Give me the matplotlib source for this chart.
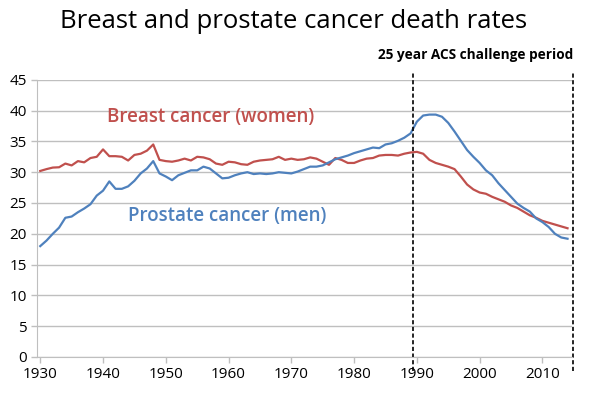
import matplotlib
matplotlib.use("Agg")
import matplotlib.pyplot as plt

RED = "#C0504D"
BLUE = "#4F81BD"
GRID = "#BFBFBF"

START_YEAR = 1930

# age-adjusted death rates per 100,000
breast = [30.2, 30.5, 30.75, 30.8, 31.4, 31.1, 31.8, 31.6, 32.3, 32.5,
          33.7, 32.6, 32.6, 32.5, 31.9, 32.8, 33.0, 33.5, 34.5, 32.0,
          31.8, 31.7, 31.9, 32.2, 31.9, 32.5, 32.4, 32.1, 31.4, 31.2,
          31.7, 31.6, 31.3, 31.2, 31.7, 31.9, 32.0, 32.1, 32.5, 32.0,
          32.2, 32.0, 32.1, 32.4, 32.2, 31.7, 31.2, 32.3, 32.0, 31.5,
          31.5, 31.9, 32.2, 32.3, 32.7, 32.8, 32.8, 32.7, 33.0, 33.2,
          33.3, 33.0, 32.0, 31.5, 31.2, 30.9, 30.5, 29.3, 28.0, 27.2,
          26.7, 26.5, 26.0, 25.6, 25.2, 24.6, 24.2, 23.6, 23.0, 22.6,
          22.1, 21.8, 21.5, 21.2, 20.9]

prostate = [18.0, 18.9, 20.0, 21.0, 22.6, 22.8, 23.5, 24.1, 24.8, 26.2,
            27.0, 28.5, 27.3, 27.3, 27.7, 28.6, 29.8, 30.6, 31.8, 29.8,
            29.3, 28.7, 29.5, 29.9, 30.3, 30.3, 30.9, 30.6, 29.8, 29.0,
            29.1, 29.5, 29.8, 30.0, 29.7, 29.8, 29.7, 29.8, 30.0, 29.9,
            29.8, 30.1, 30.5, 30.9, 30.9, 31.1, 31.6, 32.1, 32.4, 32.7,
            33.1, 33.4, 33.7, 34.0, 33.9, 34.5, 34.7, 35.1, 35.6, 36.3,
            38.2, 39.2, 39.35, 39.35, 39.0, 38.0, 36.6, 35.1, 33.6, 32.5,
            31.5, 30.3, 29.5, 28.2, 27.1, 26.0, 24.9, 24.2, 23.6, 22.5,
            21.9, 21.1, 20.0, 19.4, 19.2]

years = list(range(START_YEAR, START_YEAR + len(breast)))
x_ticks = list(range(1930, 2011, 10))
y_ticks = list(range(0, 46, 5))
period_bounds = [1989.4, 2014.9]

plt.rcParams['font.family'] = ['Open Sans', 'DejaVu Sans']

fig = plt.figure(figsize=(5.89, 3.96), dpi=100)
ax = fig.add_axes([0.063, 0.0985, 0.908, 0.70])

ax.plot(years, breast, color=RED, lw=1.6)
ax.plot(years, prostate, color=BLUE, lw=1.6)

ax.set_xlim(1929.5, 2014.7)
ax.set_ylim(0, 45)
ax.set_xticks(x_ticks)
ax.set_yticks(y_ticks)
ax.grid(axis='y', color=GRID, lw=1)
ax.set_axisbelow(True)
for side in ['top', 'right']:
    ax.spines[side].set_visible(False)
for side in ['left', 'bottom']:
    ax.spines[side].set_color(GRID)
ax.tick_params(axis='both', colors=GRID, labelcolor='black', labelsize=11,
               length=4, width=1)

# dashed markers for the 25 year period, running past the plot area
for xb in period_bounds:
    ax.plot([xb, xb], [-2.2, 46.5], color='black', lw=1.2, ls=(0, (2.5, 1.5)),
            clip_on=False)

ax.text(1940.6, 39.0, "Breast cancer (women)", color=RED, fontsize=13.5,
        fontweight='semibold', va='center')
ax.text(1944.0, 22.9, "Prostate cancer (men)", color=BLUE, fontsize=13.5,
        fontweight='semibold', va='center')

fig.text(0.498, 0.945, "Breast and prostate cancer death rates", ha='center',
         va='center', fontsize=18.5)
fig.text(0.807, 0.862, "25 year ACS challenge period", ha='center',
         va='center', fontsize=9.8, fontweight='bold')

fig.savefig("out.png", dpi=100)
